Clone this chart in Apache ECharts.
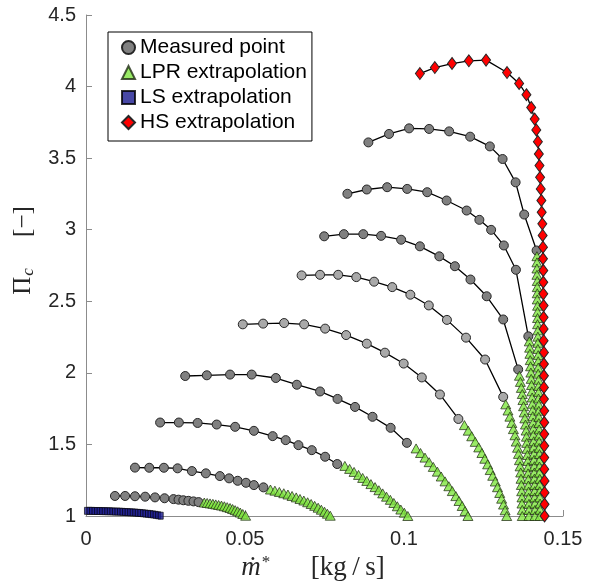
<!DOCTYPE html>
<html style="height: 100%">
<head>
  <meta charset="utf-8">
  <title>Compressor map</title>
</head>
<body style="height: 100%; margin: 0; background: #fff">
<div id="main" style="width: 589px; height: 587px"></div>
<script src="https://cdn.jsdelivr.net/npm/echarts@6/dist/echarts.min.js"></script>
<script>
// axis ticks
var xTicks = [0, 0.05, 0.1, 0.15];
var yTicks = [1, 1.5, 2, 2.5, 3, 3.5, 4, 4.5];

// measured speed lines (mass flow, pressure ratio)
var mp1X = [0.0091,0.0123,0.0154,0.0186,0.0217,0.0247,0.0275,0.0291,0.0306,0.0322,0.0338,0.0354];
var mp1Y = [1.140,1.140,1.138,1.135,1.130,1.124,1.118,1.114,1.110,1.106,1.102,1.097];
var mp2X = [0.0154,0.0199,0.0245,0.0288,0.0333,0.0377,0.0421,0.0450,0.0477,0.0503,0.0528,0.0558];
var mp2Y = [1.338,1.337,1.337,1.333,1.314,1.298,1.279,1.263,1.246,1.232,1.216,1.200];
var mp3X = [0.0233,0.0292,0.0351,0.0411,0.0469,0.0528,0.0587,0.0628,0.0668,0.0710,0.0752,0.0790];
var mp3Y = [1.653,1.653,1.650,1.639,1.623,1.595,1.558,1.530,1.495,1.460,1.414,1.363];
var mp4X = [0.0312,0.0380,0.0453,0.0521,0.0597,0.0663,0.0736,0.0791,0.0846,0.0901,0.0958,0.1009];
var mp4Y = [1.978,1.983,1.988,1.988,1.964,1.917,1.870,1.818,1.762,1.693,1.616,1.511];
var mp5X = [0.0493,0.0557,0.0623,0.0686,0.0752,0.0818,0.0883,0.0940,0.0999,0.1056,0.1113,0.1171];
var mp5Y = [2.339,2.344,2.348,2.339,2.309,2.264,2.204,2.141,2.065,1.968,1.849,1.678];
var mp6X = [0.0678,0.0736,0.0793,0.0850,0.0906,0.0963,0.1020,0.1078,0.1135,0.1195,0.1255,0.1312];
var mp6Y = [2.681,2.685,2.685,2.669,2.637,2.599,2.546,2.471,2.370,2.246,2.093,1.832];
var mp7X = [0.0749,0.0811,0.0872,0.0928,0.0991,0.1050,0.1111,0.1160,0.1209,0.1260,0.1312,0.1359];
var mp7Y = [2.954,2.969,2.969,2.957,2.930,2.884,2.814,2.745,2.652,2.535,2.373,2.024];
var mp8X = [0.0822,0.0883,0.0947,0.1010,0.1073,0.1134,0.1197,0.1237,0.1274,0.1314,0.1352,0.1391];
var mp8Y = [3.251,3.281,3.297,3.285,3.262,3.204,3.134,3.069,2.999,2.890,2.720,2.255];
var mp9X = [0.0888,0.0953,0.1016,0.1079,0.1142,0.1208,0.1270,0.1310,0.1351,0.1378,0.1417];
var mp9Y = [3.610,3.669,3.708,3.704,3.687,3.650,3.582,3.494,3.331,3.106,2.855];

// low pressure ratio extrapolation
var lpr1X = [0.0372,0.0381,0.0390,0.0399,0.0408,0.0417,0.0426,0.0435,0.0444,0.0453,0.0461,0.0469,0.0477,0.0485,0.0493,0.0502];
var lpr1Y = [1.094,1.091,1.088,1.085,1.081,1.077,1.073,1.068,1.062,1.056,1.049,1.041,1.033,1.024,1.014,1.002];
var lpr2X = [0.0580,0.0594,0.0608,0.0622,0.0635,0.0648,0.0661,0.0673,0.0685,0.0697,0.0708,0.0719,0.0730,0.0740,0.0750,0.0759,0.0768];
var lpr2Y = [1.185,1.177,1.168,1.159,1.150,1.140,1.130,1.119,1.108,1.096,1.084,1.071,1.058,1.044,1.030,1.016,1.002];
var lpr3X = [0.0814,0.0829,0.0843,0.0857,0.0870,0.0883,0.0896,0.0909,0.0921,0.0933,0.0945,0.0957,0.0968,0.0979,0.0990,0.1001,0.1012];
var lpr3Y = [1.350,1.329,1.308,1.287,1.266,1.245,1.223,1.202,1.180,1.158,1.135,1.113,1.091,1.068,1.045,1.023,1.000];
var lpr4X = [0.1038,0.1052,0.1066,0.1079,0.1092,0.1105,0.1117,0.1129,0.1141,0.1152,0.1163,0.1173,0.1183,0.1192,0.1201];
var lpr4Y = [1.472,1.440,1.408,1.376,1.343,1.310,1.276,1.242,1.208,1.174,1.139,1.105,1.070,1.035,1.000];
var lpr5X = [0.1190,0.1202,0.1213,0.1224,0.1235,0.1245,0.1254,0.1263,0.1271,0.1279,0.1287,0.1294,0.1301,0.1307,0.1313,0.1318,0.1323];
var lpr5Y = [1.635,1.596,1.557,1.518,1.479,1.440,1.400,1.361,1.321,1.281,1.241,1.201,1.161,1.121,1.080,1.040,1.000];
var lpr6X = [0.1320,0.1327,0.1333,0.1339,0.1344,0.1349,0.1353,0.1357,0.1360,0.1363,0.1365,0.1367,0.1368,0.1369,0.1370,0.1371,0.1371,0.1372,0.1372];
var lpr6Y = [1.780,1.737,1.694,1.650,1.607,1.564,1.520,1.477,1.434,1.390,1.347,1.304,1.260,1.217,1.173,1.130,1.087,1.043,1.000];
var lpr7X = [0.1363,0.1366,0.1369,0.1372,0.1374,0.1376,0.1378,0.1380,0.1382,0.1384,0.1385,0.1386,0.1387,0.1388,0.1389,0.1390,0.1390,0.1391,0.1391,0.1392,0.1392,0.1393,0.1393,0.1393];
var lpr7Y = [1.980,1.937,1.895,1.852,1.810,1.767,1.724,1.682,1.639,1.597,1.554,1.511,1.469,1.426,1.384,1.341,1.298,1.256,1.213,1.171,1.128,1.085,1.043,1.000];
var lpr8X = [0.1394,0.1395,0.1396,0.1397,0.1398,0.1399,0.1400,0.1401,0.1402,0.1403,0.1404,0.1405,0.1405,0.1406,0.1407,0.1407,0.1408,0.1408,0.1409,0.1409,0.1410,0.1410,0.1410,0.1411,0.1411,0.1411,0.1412,0.1412,0.1412];
var lpr8Y = [2.220,2.176,2.133,2.089,2.046,2.002,1.958,1.915,1.871,1.828,1.784,1.740,1.697,1.653,1.610,1.566,1.522,1.479,1.435,1.392,1.348,1.304,1.261,1.217,1.174,1.130,1.087,1.043,1.000];
var lpr9X = [0.1418,0.1418,0.1418,0.1418,0.1419,0.1419,0.1419,0.1419,0.1420,0.1420,0.1420,0.1420,0.1421,0.1421,0.1421,0.1421,0.1422,0.1422,0.1422,0.1422,0.1423,0.1423,0.1423,0.1423,0.1424,0.1424,0.1424,0.1424,0.1425,0.1425,0.1425,0.1425,0.1426,0.1426,0.1426,0.1426,0.1427,0.1427,0.1427,0.1427,0.1428,0.1428,0.1428];
var lpr9Y = [2.815,2.772,2.729,2.685,2.642,2.599,2.556,2.513,2.469,2.426,2.383,2.340,2.297,2.253,2.210,2.167,2.124,2.081,2.037,1.994,1.951,1.908,1.865,1.821,1.778,1.735,1.692,1.649,1.605,1.562,1.519,1.476,1.433,1.389,1.346,1.303,1.260,1.217,1.173,1.130,1.087,1.044,1.000];

// low speed extrapolation
var lsX = [0.0003,0.0011,0.0019,0.0027,0.0035,0.0043,0.0051,0.0059,0.0067,0.0075,0.0083,0.0091,0.0099,0.0107,0.0115,0.0123,0.0131,0.0139,0.0147,0.0155,0.0163,0.0171,0.0179,0.0187,0.0195,0.0203,0.0211,0.0219,0.0227,0.0235];
var lsY = [1.036,1.036,1.036,1.035,1.035,1.035,1.034,1.034,1.033,1.033,1.032,1.031,1.031,1.030,1.029,1.028,1.027,1.026,1.025,1.024,1.022,1.021,1.019,1.017,1.015,1.013,1.011,1.008,1.005,1.002];

// high speed extrapolation
var hsX = [0.1050,0.1097,0.1151,0.1204,0.1258,0.1324,0.1362,0.1385,0.1400,0.1411,0.1416,0.1421,0.1424,0.1426,0.1428,0.1430,0.1432,0.1433,0.1435,0.1436,
           0.1437,0.1437,0.1438,0.1438,0.1438,0.1439,0.1439,0.1439,0.1439,0.1440,0.1440,0.1440,0.1440,0.1440,0.1441,0.1441,0.1441,0.1441,0.1441,0.1441,0.1442,0.1442,0.1442,0.1442];
var hsY = [4.091,4.133,4.161,4.180,4.185,4.098,4.022,3.943,3.854,3.773,3.697,3.615,3.529,3.448,3.366,3.285,3.204,3.122,3.041,2.960,
           2.878,2.797,2.715,2.633,2.552,2.470,2.388,2.307,2.225,2.143,2.062,1.980,1.898,1.817,1.735,1.653,1.572,1.490,1.408,1.327,1.245,1.163,1.082,1.000];

var measured = [[mp1X,mp1Y],[mp2X,mp2Y],[mp3X,mp3Y],[mp4X,mp4Y],[mp5X,mp5Y],[mp6X,mp6Y],[mp7X,mp7Y],[mp8X,mp8Y],[mp9X,mp9Y]];
var grayFill = ['#808080','#808080','#808080','#808080','#a9a9a9','#a9a9a9','#808080','#808080','#808080'];
var lpr = [[lpr1X,lpr1Y],[lpr2X,lpr2Y],[lpr3X,lpr3Y],[lpr4X,lpr4Y],[lpr5X,lpr5Y],[lpr6X,lpr6Y],[lpr7X,lpr7Y],[lpr8X,lpr8Y],[lpr9X,lpr9Y]];

function pairs(xs, ys) {
  return xs.map(function (v, i) { return [v, ys[i]]; });
}

var series = [];
measured.forEach(function (m, i) {
  series.push({
    type: 'line', name: 'Measured point', data: pairs(m[0], m[1]),
    symbol: 'circle', symbolSize: 9, showAllSymbol: true,
    lineStyle: { color: '#000', width: 1.3 },
    itemStyle: { color: grayFill[i], borderColor: '#262626', borderWidth: 1 },
    z: 2
  });
});
lpr.forEach(function (m) {
  series.push({
    type: 'scatter', name: 'LPR extrapolation', data: pairs(m[0], m[1]),
    symbol: 'triangle', symbolSize: [10, 9],
    itemStyle: { color: '#80e640', borderColor: '#1f2a14', borderWidth: 0.9 },
    z: 3
  });
});
series.push({
  type: 'scatter', name: 'LS extrapolation', data: pairs(lsX, lsY),
  symbol: 'rect', symbolSize: [5, 7],
  itemStyle: { color: '#1a1a90', borderColor: '#000', borderWidth: 0.8 },
  z: 3
});
series.push({
  type: 'line', name: 'HS extrapolation', data: pairs(hsX, hsY),
  symbol: 'diamond', symbolSize: [9, 12], showAllSymbol: true,
  lineStyle: { color: '#000', width: 1.3 },
  itemStyle: { color: '#ff0000', borderColor: '#262626', borderWidth: 1 },
  z: 4
});

var sans = 'Liberation Sans, Arial, sans-serif';
var serif = 'Liberation Serif, Times New Roman, serif';

var chart = echarts.init(document.getElementById('main'), null, { renderer: 'canvas' });
var option = {
  animation: false,
  backgroundColor: '#fff',
  grid: { left: 86, right: 26, top: 15, bottom: 71, containLabel: false },
  legend: {
    orient: 'vertical', left: 108, top: 32,
    itemWidth: 13, itemHeight: 13, itemGap: 4, itemTextGap: 6,
    padding: [5, 5, 8, 13],
    borderColor: '#000', borderWidth: 1, backgroundColor: '#fff',
    textStyle: { fontSize: 21, color: '#000', fontFamily: sans },
    data: [
      { name: 'Measured point', icon: 'circle' },
      { name: 'LPR extrapolation', icon: 'triangle' },
      { name: 'LS extrapolation', icon: 'rect', itemWidth: 9 },
      { name: 'HS extrapolation', icon: 'diamond' }
    ],
    selectedMode: false
  },
  xAxis: {
    type: 'value', min: xTicks[0], max: xTicks[xTicks.length - 1], interval: 0.05,
    name: '{i|ṁ}{s|*}{a|      [kg\u2009/\u2009s]}',
    nameLocation: 'middle', nameGap: 36,
    nameTextStyle: {
      padding: [0, 23, 0, 0],
      rich: {
        i: { fontFamily: serif, fontStyle: 'italic', fontSize: 27, color: '#262626' },
        s: { fontFamily: serif, fontSize: 17, color: '#262626', padding: [0, 0, 12, 1] },
        a: { fontFamily: serif, fontSize: 27, color: '#262626' }
      }
    },
    axisLine: { show: true, lineStyle: { color: '#8c8c8c', width: 1 } },
    axisTick: { show: true, inside: true, length: 6, lineStyle: { color: '#8c8c8c' } },
    splitLine: { show: false },
    axisLabel: {
      fontSize: 20, color: '#262626', fontFamily: sans, margin: 13,
      formatter: function (v) { return String(parseFloat(v.toFixed(2))); }
    }
  },
  yAxis: {
    type: 'value', min: yTicks[0], max: yTicks[yTicks.length - 1], interval: 0.5,
    name: '{a|Π}{c|c}{a|     [−]}',
    nameLocation: 'middle', nameGap: 47,
    nameTextStyle: {
      padding: [0, 0, 0, 30],
      rich: {
        a: { fontFamily: serif, fontSize: 25, color: '#262626' },
        c: { fontFamily: serif, fontStyle: 'italic', fontSize: 17, color: '#262626', padding: [11, 0, 0, 1] }
      }
    },
    axisLine: { show: true, lineStyle: { color: '#8c8c8c', width: 1 } },
    axisTick: { show: true, inside: true, length: 6, lineStyle: { color: '#8c8c8c' } },
    splitLine: { show: false },
    axisLabel: {
      fontSize: 20, color: '#262626', fontFamily: sans, margin: 10,
      formatter: function (v) { return String(parseFloat(v.toFixed(1))); }
    }
  },
  series: series
};
chart.setOption(option);
</script>
</body>
</html>
